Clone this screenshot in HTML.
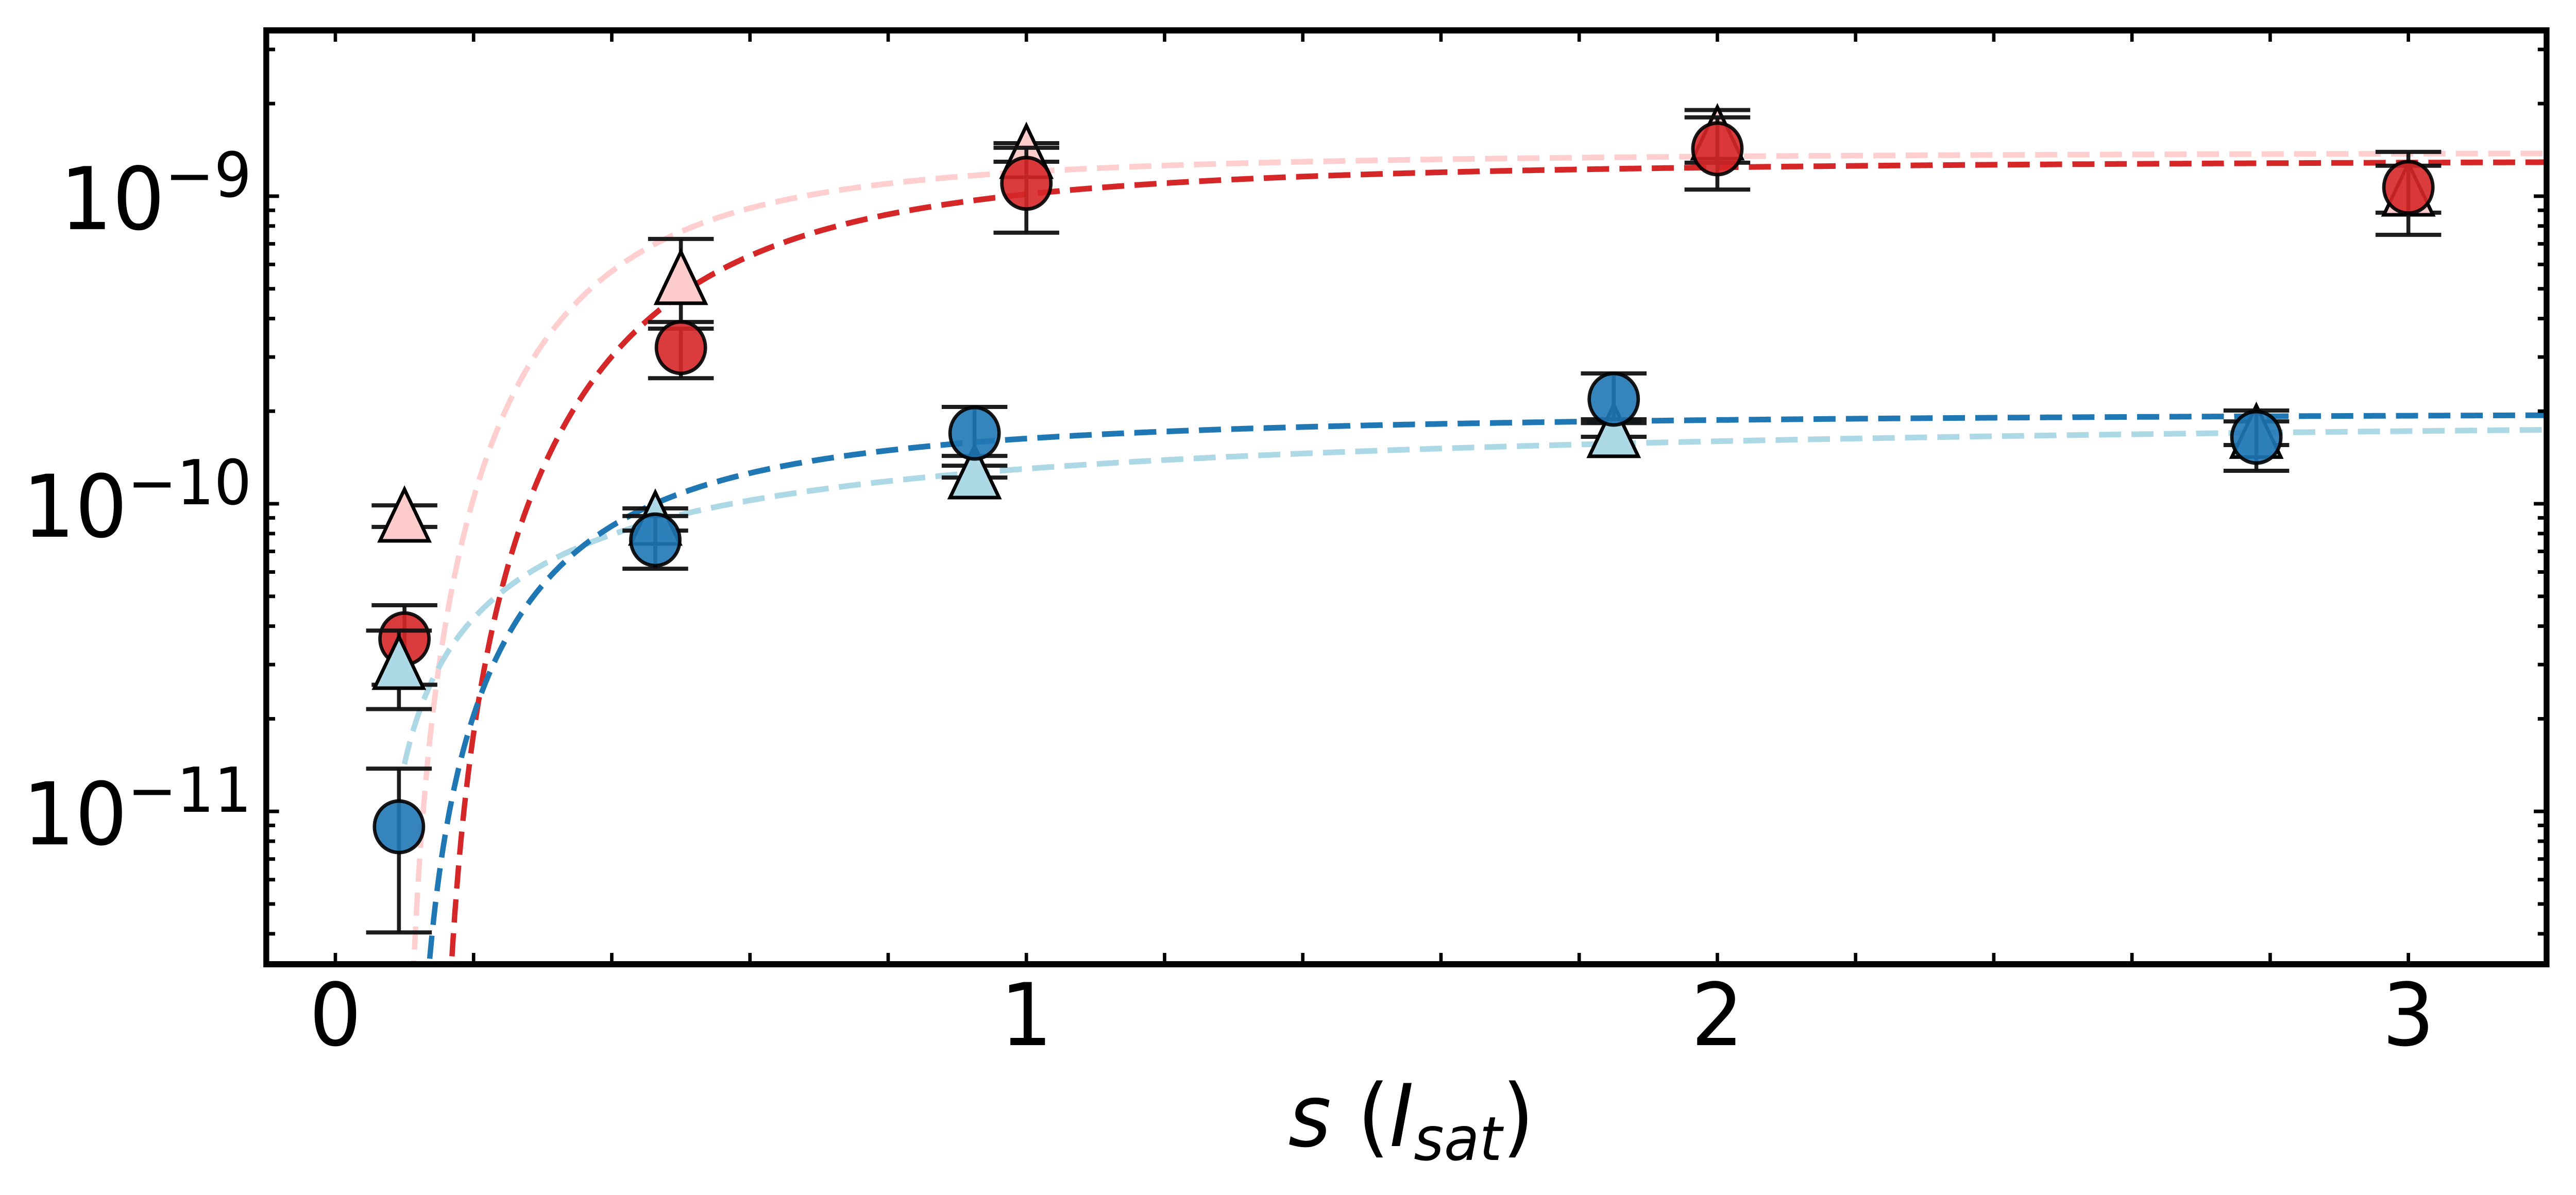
<!DOCTYPE html>
<html><head><meta charset="utf-8"><style>
html,body{margin:0;padding:0;background:#fff;width:100%;height:100%;overflow:hidden;}
svg{display:block;position:absolute;left:0;top:0;width:100vw;height:100vh;}
text{font-family:"DejaVu Sans","Liberation Sans",sans-serif;fill:#000;}
</style></head><body>
<svg id="chart" viewBox="0 0 5253 2320" preserveAspectRatio="none" xmlns="http://www.w3.org/2000/svg" overflow="hidden">
<rect x="0" y="0" width="5253" height="2320" fill="#fff"/>
<g id="curves"></g>
<g id="points"></g>
<g id="axes"></g>
<text x="2627" y="2225" font-size="168"><tspan font-style="italic">s</tspan> (<tspan font-style="italic">I</tspan><tspan font-style="italic" font-size="118" dy="27">sat</tspan><tspan dy="-27">)</tspan></text>
</svg>
<script>
// ---- data ----
const sPink = [0.10, 0.50, 1.00, 2.00, 3.00];
const yPink = [9.19e-11, 5.44e-10, 1.398e-9, 1.607e-9, 1.055e-9];
const hiPink = [9.88e-11, 7.26e-10, 1.487e-9, 1.906e-9, 1.256e-9];
const loPink = [8.41e-11, 3.90e-10, 1.294e-9, 1.285e-9, 8.84e-10];

const sRed = [0.10, 0.50, 1.00, 2.00, 3.00];
const yRed = [3.64e-11, 3.22e-10, 1.101e-9, 1.426e-9, 1.068e-9];
const hiRed = [4.68e-11, 3.71e-10, 1.437e-9, 1.804e-9, 1.393e-9];
const loRed = [2.58e-11, 2.56e-10, 7.61e-10, 1.051e-9, 7.49e-10];

const sLight = [0.092, 0.463, 0.925, 1.85, 2.78];
const yLight = [3.05e-11, 8.98e-11, 1.27e-10, 1.73e-10, 1.72e-10];
const hiLight = [3.87e-11, 9.66e-11, 1.33e-10, 1.83e-10, 1.853e-10];
const loLight = [2.15e-11, 8.18e-11, 1.217e-10, 1.651e-10, 1.552e-10];

const sBlue = [0.092, 0.463, 0.925, 1.85, 2.78];
const yBlue = [8.91e-12, 7.63e-11, 1.696e-10, 2.188e-10, 1.645e-10];
const hiBlue = [1.377e-11, 9.12e-11, 2.065e-10, 2.653e-10, 2.01e-10];
const loBlue = [4.04e-12, 6.15e-11, 1.431e-10, 1.882e-10, 1.28e-10];

// fit parameters y = A*x^n/(x^n+k), x = s - s0
const fitPink = [1.396e-9, 0.096, 2, 0.134];
const fitRed = [1.32e-9, 0.145, 2, 0.22];
const fitLight = [2.034e-10, 0.06, 1, 0.531];
const fitBlue = [2.0e-10, 0.109, 1.6, 0.189];

const xTicks = [0, 1, 2, 3];
const xTickLabels = ['0', '1', '2', '3'];
const yTickExp = [-9, -10, -11];
const yTickLabels = ['\u22129', '\u221210', '\u221211'];

// ---- axes functions ----
const L = 543, R = 5193, T = 59, B = 1872;
const xDom = [-0.1, 3.2], yDom = [-11.497, -8.461];
const X = s => L + (s - xDom[0]) / (xDom[1] - xDom[0]) * (R - L);
const Y = v => B - (Math.log10(v) - yDom[0]) / (yDom[1] - yDom[0]) * (B - T);
const NS = 'http://www.w3.org/2000/svg';
function mk(tag, attrs, parent) {
  const e = document.createElementNS(NS, tag);
  for (const k in attrs) e.setAttribute(k, attrs[k]);
  parent.appendChild(e);
  return e;
}
const gC = document.getElementById('curves');
const gP = document.getElementById('points');
const gA = document.getElementById('axes');

const defs = mk('defs', {}, document.getElementById('chart'));
const cp = mk('clipPath', {id: 'plotclip'}, defs);
mk('rect', {x: L, y: T, width: R - L, height: B - T}, cp);
gC.setAttribute('clip-path', 'url(#plotclip)');

function curve(fit, color, name) {
  const [A, s0, n, k] = fit;
  let d = '';
  let started = false;
  for (let i = 0; i <= 3000; i++) {
    const s = 0.1 + (3.2 - 0.1) * i / 3000;
    const x = s - s0;
    if (x <= 0) continue;
    const xn = Math.pow(x, n);
    const v = A * xn / (xn + k);
    let py = Y(v);
    if (py > B + 20) py = B + 20;
    d += (started ? 'L' : 'M') + X(s).toFixed(1) + ',' + py.toFixed(1);
    started = true;
  }
  const p = mk('path', {d: d, fill: 'none', stroke: color, 'stroke-width': 11, 'stroke-dasharray': '45,21'}, gC);
  
  
}
curve(fitPink, '#ffcfcf', 'fit-curve-pink');
curve(fitRed, '#d62728', 'fit-curve-red');
curve(fitLight, '#add8e6', 'fit-curve-lightblue');
curve(fitBlue, '#1f77b4', 'fit-curve-blue');

function series(ss, ys, his, los, fill, shape, name) {
  const g = mk('g', {}, gP);
  
  
  for (let i = 0; i < ss.length; i++) {
    const cx = X(ss[i]), cy = Y(ys[i]);
    const yh = Y(his[i]), yl = Y(los[i]);
    const eb = mk('g', {stroke: '#111', 'stroke-width': 8, 'stroke-opacity': 0.95}, g);
    
    
    mk('line', {x1: cx, x2: cx, y1: yh, y2: yl}, eb);
    mk('line', {x1: cx - 67, x2: cx + 67, y1: yh, y2: yh}, eb);
    mk('line', {x1: cx - 67, x2: cx + 67, y1: yl, y2: yl}, eb);
    let m;
    if (shape === 'circle') {
      m = mk('circle', {cx: cx, cy: cy, r: 50, fill: fill, 'fill-opacity': 0.9, stroke: '#000', 'stroke-width': 7, 'stroke-opacity': 0.9}, g);
    } else {
      m = mk('polygon', {points: `${cx},${cy - 50} ${cx - 50},${cy + 50} ${cx + 50},${cy + 50}`, fill: fill, stroke: '#000', 'stroke-width': 7}, g);
    }
    
    
  }
}
series(sPink, yPink, hiPink, loPink, '#ffcccc', 'tri', 'series-pink-triangles');
series(sRed, yRed, hiRed, loRed, '#d62728', 'circle', 'series-red-circles');
series(sLight, yLight, hiLight, loLight, '#add8e6', 'tri', 'series-lightblue-triangles');
series(sBlue, yBlue, hiBlue, loBlue, '#1f77b4', 'circle', 'series-blue-circles');

const tg = mk('g', {stroke: '#000', 'stroke-width': 7}, gA);


for (let v = 0; v <= 3.2001; v += 0.2) {
  const x = X(v);
  mk('line', {x1: x, x2: x, y1: B, y2: B - 22}, tg);
  mk('line', {x1: x, x2: x, y1: T, y2: T + 22}, tg);
}
for (let e = -12; e <= -9; e++) {
  for (let m = 1; m <= 9; m++) {
    const v = m * Math.pow(10, e);
    const lv = Math.log10(v);
    if (lv < yDom[0] || lv > yDom[1]) continue;
    const y = Y(v);
    const len = m === 1 ? 26 : 18;
    mk('line', {x1: L, x2: L + len, y1: y, y2: y}, tg);
    mk('line', {x1: R, x2: R - len, y1: y, y2: y}, tg);
  }
}
const fr = mk('rect', {x: L, y: T, width: R - L, height: B - T, fill: 'none', stroke: '#000', 'stroke-width': 12}, gA);



for (let i = 0; i < xTicks.length; i++) {
  const t = mk('text', {x: X(xTicks[i]), y: 2029, 'font-size': 168, 'text-anchor': 'middle'}, gA);
  t.textContent = xTickLabels[i];
  
  
}
for (let i = 0; i < yTickExp.length; i++) {
  const y = Y(Math.pow(10, yTickExp[i]));
  const t = mk('text', {x: 513, y: y + 64, 'font-size': 168, 'text-anchor': 'end'}, gA);
  
  
  const a = mk('tspan', {}, t);
  a.textContent = '10';
  const b = mk('tspan', {'font-size': 120, dy: -63}, t);
  b.textContent = yTickLabels[i];
}
</script>
</body></html>
